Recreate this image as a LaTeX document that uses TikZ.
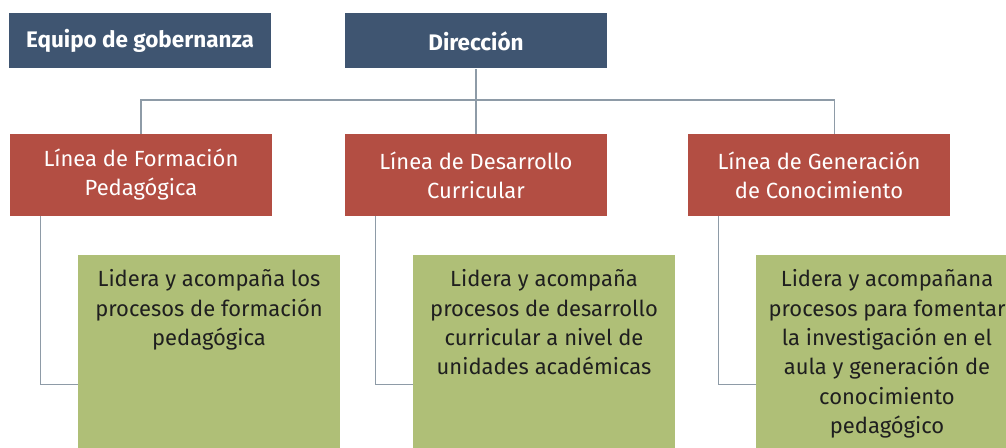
\documentclass[tikz,border=0pt]{standalone}
\usepackage{fontspec}
\setmainfont{Fira Sans}
\definecolor{govblue}{HTML}{3F5571}
\definecolor{linered}{HTML}{B34E43}
\definecolor{taskgreen}{HTML}{AFBF77}
\definecolor{linkgray}{HTML}{8E9BA7}
\newcommand{\tasktext}[1]{\parbox[c][5.16cm][t]{5.24cm}{\centering\vspace*{0.29cm}#1}}
\begin{document}
\begin{tikzpicture}[x=0.02cm,y=-0.02cm,
    head/.style={fill=govblue,text=white,font=\bfseries\fontsize{12.8}{14}\selectfont,
      minimum width=5.24cm,minimum height=1.1cm,inner sep=0pt},
    lineb/.style={fill=linered,text=white,align=center,font=\fontsize{12.5}{16.5}\selectfont,
      minimum width=5.24cm,minimum height=1.64cm,inner sep=0pt},
    task/.style={fill=taskgreen,text=black!88,anchor=north,inner sep=0pt,
      font=\fontsize{12.5}{16.7}\selectfont},
    link/.style={draw=linkgray,line width=0.8pt}]
  \useasboundingbox (0,0) rectangle (1006,448);
  \clip (0,0) rectangle (1006,448);
  \node[head] (gov) at (140,41) {Equipo de gobernanza};
  \node[head] (dir) at (476,41) {Dirección};
  \coordinate (hub) at (476,100);
  \node[lineb] (form) at (141,175) {Línea de Formación\\Pedagógica};
  \node[lineb] (curr) at (476,175) {Línea de Desarrollo\\Curricular};
  \node[lineb] (conoc) at (819,175) {Línea de Generación\\de Conocimiento};
  \node[task] (tform) at (209,255) {\tasktext{Lidera y acompaña los\\procesos de formación\\pedagógica}};
  \node[task] (tcurr) at (544,255) {\tasktext{Lidera y acompaña\\procesos de desarrollo\\curricular a nivel de\\unidades académicas}};
  \node[task] (tconoc) at (887,255) {\tasktext{Lidera y acompañana\\procesos para fomentar\\la investigación en el\\aula y generación de\\conocimiento\\pedagógico}};
  \draw[link] (dir.south) -- (curr.north);
  \draw[link] (form.north) |- (hub) -| ([xshift=.31cm]conoc.north);
  \draw[link] ([xshift=.62cm]form.south west) |- (tform.west);
  \draw[link] ([xshift=.62cm]curr.south west) |- (tcurr.west);
  \draw[link] ([xshift=.62cm]conoc.south west) |- (tconoc.west);
\end{tikzpicture}
\end{document}
